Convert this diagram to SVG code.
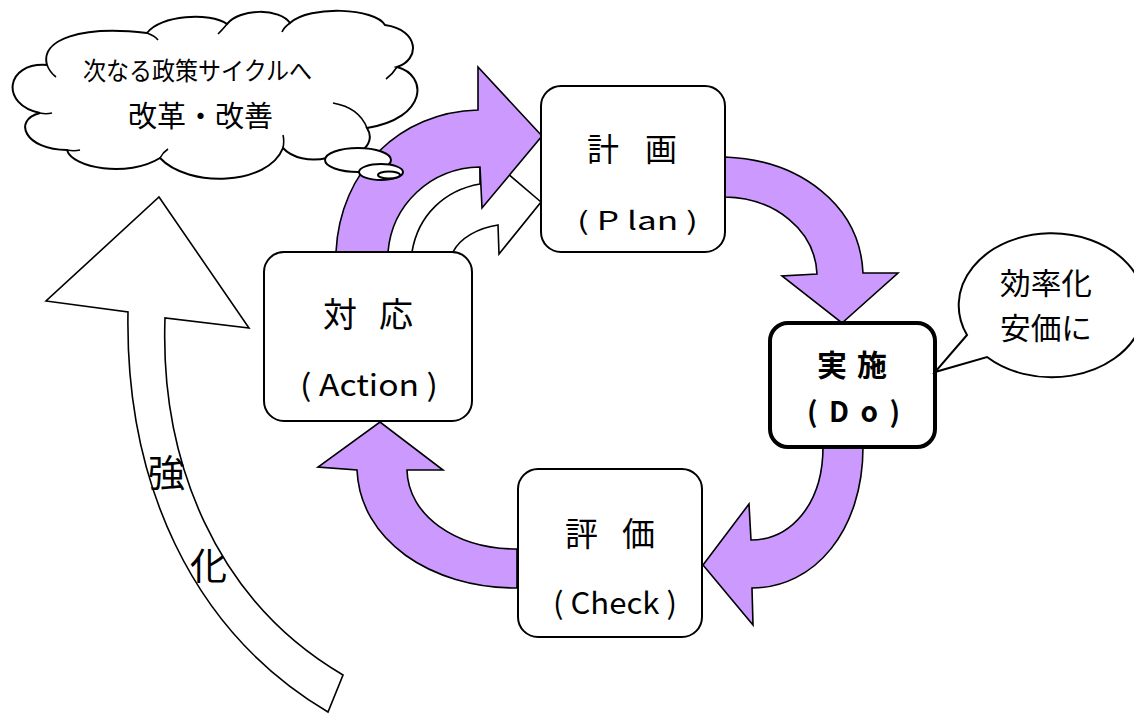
<svg xmlns="http://www.w3.org/2000/svg" width="1134" height="722" viewBox="0 0 1134 722">
<style>
.box{fill:#fff;stroke:#000;stroke-width:2}
.bold{fill:#fff;stroke:#000;stroke-width:4}
.parr{fill:#CC99FF;stroke:#000;stroke-width:1.6;stroke-linejoin:miter}
.warr{fill:#fff;stroke:#000;stroke-width:1.6}
.ln{fill:none;stroke:#000;stroke-width:1.6}
.jp{font-family:"Noto Sans CJK JP","Noto Sans",sans-serif;fill:#000}
.lat{font-family:"Noto Sans CJK JP","Liberation Sans",sans-serif;fill:#000}
</style>
<rect width="1134" height="722" fill="#fff"/>
<g id="connectors">
  <path id="arrow-strengthen" class="warr" d="M343,675 C215,600 160,460 165,318 L249,328 L159,197 L46,301 L128,312 C125,480 190,630 328,712 Z"/>
  <path id="arrow-action-plan-white" class="warr" d="M412,252 C418,215 445,190 480,184 L480,150 L541,202 L499,254 L498,225 C478,228 460,238 453,252 Z"/>
  <path id="arrow-action-plan" class="parr" d="M336,252 C340,170 400,112 478,110 L478,67 L542,136 L482,208 L480,167 C430,168 392,205 388,252 Z"/>
  <path id="arrow-plan-do" class="parr" d="M725,157 C800,160 860,205 863,273 L898,273 L842,323 L782,276 L817,274 C815,230 775,198 725,197 Z"/>
  <path id="arrow-do-check" class="parr" d="M823,447 C823,505 790,540 751,540 L749,504 L703,565 L753,625 L752,588 C815,588 863,530 863,447 Z"/>
  <path id="arrow-check-action" class="parr" d="M517,549 C455,549 408,515 407,470 L443,470 L380,422 L318,467 L357,470 C360,540 430,588 517,588 Z"/>
</g>
<g id="label-strengthen">
  <text class="jp" x="148" y="487" font-size="37">強</text>
  <text class="jp" x="190" y="580" font-size="37">化</text>
</g>
<g id="node-plan">
  <rect class="box" x="541" y="86" width="184" height="166" rx="20"/>
  <text class="jp" x="587" y="161" font-size="32" textLength="90" lengthAdjust="spacing">計 画</text>
  <text class="lat" x="577" y="230" font-size="25" textLength="121" lengthAdjust="spacingAndGlyphs">( P lan )</text>
</g>
<g id="node-action">
  <rect class="box" x="264" y="252" width="208" height="169" rx="20"/>
  <text class="jp" x="323" y="327" font-size="34" textLength="90" lengthAdjust="spacing">対 応</text>
  <text class="lat" x="300" y="396" font-size="30" textLength="138" lengthAdjust="spacingAndGlyphs">( Action )</text>
</g>
<g id="node-do">
  <rect class="bold" x="770" y="323" width="165" height="124" rx="18"/>
  <text class="jp" x="817" y="376" font-size="30" font-weight="bold" textLength="70" lengthAdjust="spacing">実 施</text>
  <text class="lat" x="807" y="422" font-size="28" font-weight="bold" textLength="93" lengthAdjust="spacing">( D o )</text>
</g>
<g id="node-check">
  <rect class="box" x="518" y="469" width="184" height="168" rx="20"/>
  <text class="jp" x="565" y="546" font-size="33" textLength="90" lengthAdjust="spacing">評 価</text>
  <text class="lat" x="553" y="614" font-size="30" textLength="124" lengthAdjust="spacingAndGlyphs">( Check )</text>
</g>
<g id="cloud">
  <path class="box" stroke-width="1.6" d="M47,65 C40,40 80,25 147,33 C160,15 210,12 227,24 C240,8 280,8 290,23 C310,5 375,8 385,25 C420,30 420,60 397,67 C428,75 428,118 367,128 C378,145 355,162 327,158 C310,162 292,158 283,148 C268,186 188,188 160,158 C128,178 72,168 67,150 C25,150 12,120 40,113 C0,105 5,62 47,65 Z"/>
  <path class="ln" d="M47,65 C49,70 52,74 56,77 M147,33 C152,35 156,37 158,40 M227,24 C224,28 221,31 218,34 M290,23 C286,26 283,29 282,32 M397,67 C394,72 390,76 386,79 M367,128 C362,115 350,106 333,103 M283,148 C284,143 284,139 283,135 M160,158 C162,154 165,151 168,149 M67,150 C72,151 76,151 80,150 M40,113 C44,114 48,114 52,113"/>
  <ellipse class="box" stroke-width="1.6" cx="358" cy="160" rx="33" ry="12"/>
  <ellipse class="box" stroke-width="1.6" cx="381" cy="172" rx="22" ry="8"/>
  <ellipse class="box" stroke-width="1.6" cx="389" cy="175" rx="11" ry="3.5"/>
  <text class="jp" x="83" y="80" font-size="25" textLength="229" lengthAdjust="spacingAndGlyphs">次なる政策サイクルへ</text>
  <text class="jp" x="128" y="127" font-size="29" textLength="145" lengthAdjust="spacingAndGlyphs">改革・改善</text>
</g>
<g id="callout-do">
  <path class="box" stroke-width="1.6" d="M967,335 L935,372 L987,357 A93 72 0 1 0 967,335 Z"/>
  <text class="jp" x="1000" y="294" font-size="30" textLength="92" lengthAdjust="spacingAndGlyphs">効率化</text>
  <text class="jp" x="1000" y="339" font-size="30" textLength="92" lengthAdjust="spacingAndGlyphs">安価に</text>
</g>
</svg>
